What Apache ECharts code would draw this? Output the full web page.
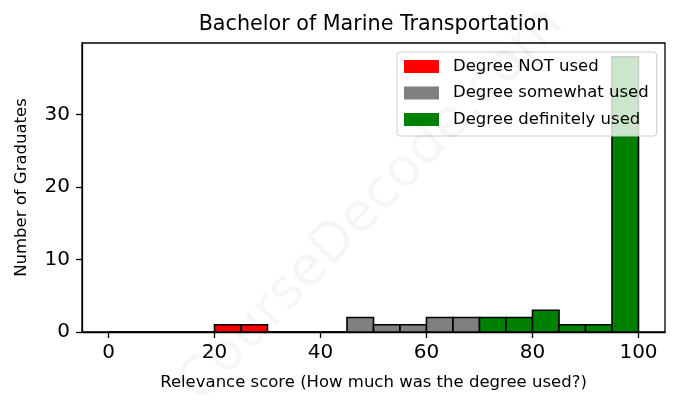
<!DOCTYPE html>
<html>
<head>
<meta charset="utf-8">
<script src="https://cdn.jsdelivr.net/npm/echarts@6/dist/echarts.min.js"></script>
<style>
html,body{margin:0;padding:0;background:#fff;}
#chart{width:678px;height:408px;}
</style>
</head>
<body>
<div id="chart"></div>
<script>
// ---- data ----
const titleText = 'Bachelor of Marine Transportation';
const xName = 'Relevance score (How much was the degree used?)';
const yName = 'Number of Graduates';
const seriesNames = ['Degree NOT used', 'Degree somewhat used', 'Degree definitely used'];
const seriesColors = ['#ff0000', '#808080', '#008000'];
// histogram bin edges (width 5)
const edgesNotUsed = [0, 5, 10, 15, 20, 25, 30, 35];
const countsNotUsed = [0, 0, 0, 0, 1, 1, 0];
const edgesSomewhat = [35, 40, 45, 50, 55, 60, 65, 70];
const countsSomewhat = [0, 0, 2, 1, 1, 2, 2];
const edgesDefinitely = [70, 75, 80, 85, 90, 95, 100];
const countsDefinitely = [2, 2, 3, 1, 1, 38];
const xTicks = [0, 20, 40, 60, 80, 100];
const yTicks = [0, 10, 20, 30];

function binsToData(edges, counts) {
  return counts.map((c, i) => [edges[i], edges[i + 1], c]);
}
const seriesData = [
  binsToData(edgesNotUsed, countsNotUsed),
  binsToData(edgesSomewhat, countsSomewhat),
  binsToData(edgesDefinitely, countsDefinitely)
];

const FONT = 'DejaVu Sans';
const chart = echarts.init(document.getElementById('chart'), null, {renderer: 'canvas'});

function makeRender(color) {
  return function (params, api) {
    const x0 = api.value(0), x1 = api.value(1), y = api.value(2);
    const pTop = api.coord([x0, y]);
    const pBot = api.coord([x1, 0]);
    return {
      type: 'rect',
      shape: {x: pTop[0], y: pTop[1], width: pBot[0] - pTop[0], height: pBot[1] - pTop[1]},
      style: {fill: color, stroke: '#000', lineWidth: 1.6}
    };
  };
}

const option = {
  animation: false,
  backgroundColor: '#fff',
  title: {
    text: titleText,
    left: 369, textAlign: 'center',
    top: 9,
    textStyle: {fontFamily: FONT, fontSize: 20.7, fontWeight: 'normal', color: '#000'}
  },
  grid: {
    left: 82, right: 13, top: 43, bottom: 76,
    show: true, borderColor: '#000', borderWidth: 1.3, backgroundColor: 'transparent'
  },
  legend: {
    orient: 'vertical',
    left: 397, top: 52,
    padding: [6, 8, 8, 7],
    itemGap: 9.5,
    itemWidth: 35, itemHeight: 13,
    icon: 'rect',
    backgroundColor: 'rgba(255,255,255,0.8)',
    borderColor: '#cccccc', borderWidth: 1, borderRadius: 3,
    itemStyle: {borderWidth: 0},
    textStyle: {fontFamily: FONT, fontSize: 16.5, color: '#000', padding: [0, 0, 0, 9], lineHeight: 17},
    data: seriesNames,
    z: 10
  },
  xAxis: {
    type: 'value', min: -5, max: 105,
    name: xName, nameLocation: 'middle', nameGap: 42,
    nameTextStyle: {fontFamily: FONT, fontSize: 16.5, color: '#000'},
    axisLine: {show: true, onZero: false, lineStyle: {color: '#000', width: 1.3}},
    axisTick: {show: true, length: 6, customValues: xTicks, lineStyle: {color: '#000', width: 1.3}},
    axisLabel: {customValues: xTicks, fontFamily: FONT, fontSize: 20, color: '#000', margin: 11},
    splitLine: {show: false}
  },
  yAxis: {
    type: 'value', min: 0, max: 39.9,
    name: yName, nameLocation: 'middle', nameGap: 52,
    nameTextStyle: {fontFamily: FONT, fontSize: 16.5, color: '#000'},
    axisLine: {show: true, onZero: false, lineStyle: {color: '#000', width: 1.3}},
    axisTick: {show: true, length: 6, customValues: yTicks, lineStyle: {color: '#000', width: 1.3}},
    axisLabel: {customValues: yTicks, fontFamily: FONT, fontSize: 20, color: '#000', margin: 12},
    splitLine: {show: false}
  },
  graphic: [{
    type: 'text', silent: true, z: 100,
    x: 372, y: 205, rotation: Math.PI * 46 / 180,
    style: {
      text: 'CourseDecode.com', fontFamily: FONT, fontSize: 54,
      fill: 'rgba(0,0,0,0.035)', align: 'center', verticalAlign: 'middle'
    }
  }],
  series: seriesNames.map((name, k) => ({
    name: name,
    type: 'custom',
    renderItem: makeRender(seriesColors[k]),
    itemStyle: {color: seriesColors[k]},
    encode: {x: [0, 1], y: 2},
    data: seriesData[k],
    clip: false
  }))
};
chart.setOption(option);
</script>
</body>
</html>
